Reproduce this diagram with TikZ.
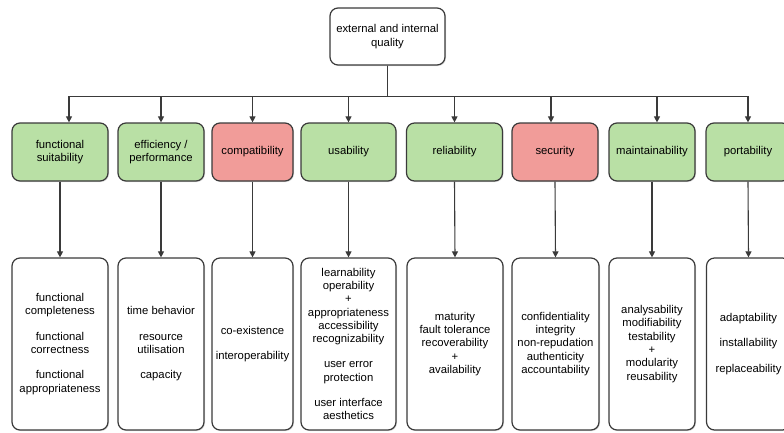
\documentclass[tikz,border=0pt]{standalone}
\usepackage{fontspec}
\setmainfont{Liberation Sans}
\usetikzlibrary{arrows.meta, shadows}
\definecolor{catgreen}{HTML}{B9E0A5}
\definecolor{catred}{HTML}{F19C99}
\definecolor{linegray}{HTML}{3A3A3A}
\tikzset{
  box/.style={draw=linegray, line width=1.2pt, rounded corners=8pt, align=center,
    font=\fontsize{11.3}{13.3}\selectfont, inner sep=1pt,
    drop shadow={opacity=0.25, shadow xshift=1pt, shadow yshift=-1pt}},
  catbox/.style={box, minimum height=58pt},
  goodcat/.style={catbox, fill=catgreen},
  badcat/.style={catbox, fill=catred},
  subbox/.style={box, fill=white, minimum height=172pt},
  conn/.style={draw=linegray, line width=1.1pt, -{Triangle[width=6pt,length=6pt]}}
}
\begin{document}
\begin{tikzpicture}[x=1pt, y=-1pt]
\clip (0,0) rectangle (784,432);

\node[box, fill=white, minimum width=115pt, minimum height=57pt] (top) at (387.5, 36.5) {external and internal\\quality};

% characteristics
\node[goodcat, minimum width=96pt] (fs) at (60, 152) {functional\\suitability};
\node[goodcat, minimum width=86pt] (eff) at (161, 152) {efficiency /\\performance};
\node[badcat, minimum width=81pt] (comp) at (252.5, 152) {compatibility};
\node[goodcat, minimum width=95pt] (usab) at (348.5, 152) {usability};
\node[goodcat, minimum width=96pt] (rel) at (454.5, 152) {reliability};
\node[badcat, minimum width=86pt] (sec) at (555, 152) {security};
\node[goodcat, minimum width=86pt] (maint) at (652, 152) {maintainability};
\node[goodcat, minimum width=84pt] (port) at (748, 152) {portability};

% sub-characteristics
\node[subbox, minimum width=96pt] (fsd) at (60, 344) {functional\\completeness\\[12pt]functional\\correctness\\[12pt]functional\\appropriateness};
\node[subbox, minimum width=86pt] (effd) at (161, 344) {time behavior\\[12pt]resource\\utilisation\\[12pt]capacity};
\node[subbox, minimum width=81pt] (compd) at (252.5, 344) {co-existence\\[12pt]interoperability};
\node[subbox, minimum width=95pt] (usabd) at (348.5, 344) {learnability\\operability\\+\\appropriateness\\accessibility\\recognizability\\[12pt]user error\\protection\\[12pt]user interface\\aesthetics};
\node[subbox, minimum width=96pt] (reld) at (455, 344) {maturity\\fault tolerance\\recoverability\\+\\availability};
\node[subbox, minimum width=87pt] (secd) at (555.5, 344) {confidentiality\\integrity\\non-repudation\\authenticity\\accountability};
\node[subbox, minimum width=86pt] (maintd) at (652, 344) {analysability\\modifiability\\testability\\+\\modularity\\reusability};
\node[subbox, minimum width=84pt] (portd) at (748.5, 344) {adaptability\\[12pt]installability\\[12pt]replaceability};

\foreach \n/\dx in {fs/9, eff/0, comp/0, usab/0, rel/0, sec/-4, maint/5, port/0}
  \draw[conn] (top.south) -- ++(0,31) -| ([xshift=\dx pt]\n.north);
\foreach \n in {fs, eff, comp, usab, rel, sec, maint, port}
  \draw[conn] (\n.south) -- (\n d.north);
\end{tikzpicture}
\end{document}
